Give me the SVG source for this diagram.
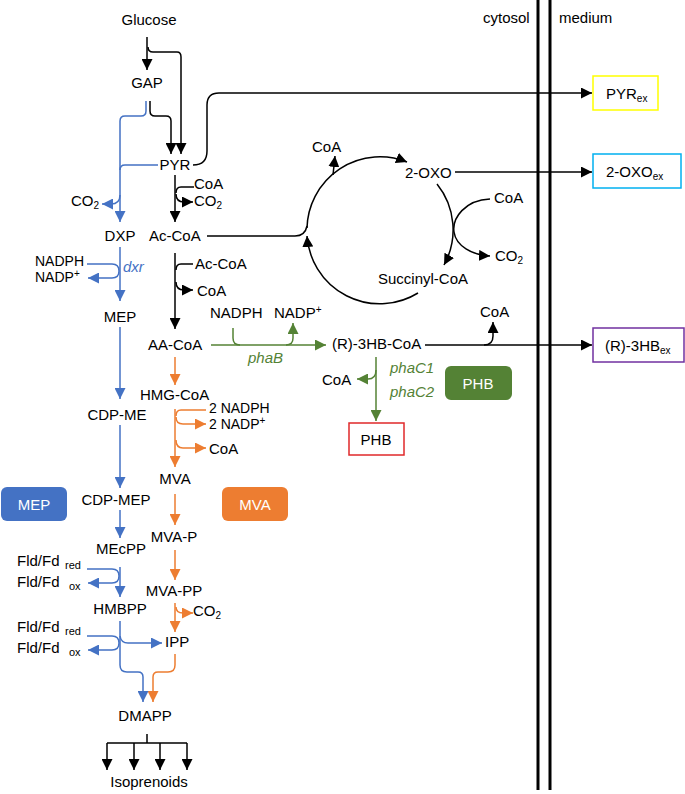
<svg xmlns="http://www.w3.org/2000/svg" width="685" height="794" viewBox="0 0 685 794">
<defs>
<marker id="ak" viewBox="0 0 10 10" refX="10" refY="5" markerWidth="11" markerHeight="11" markerUnits="userSpaceOnUse" orient="auto"><path d="M0,0 L10,5 L0,10 z" fill="#000"/></marker>
<marker id="ab" viewBox="0 0 10 10" refX="10" refY="5" markerWidth="11" markerHeight="11" markerUnits="userSpaceOnUse" orient="auto"><path d="M0,0 L10,5 L0,10 z" fill="#4472C4"/></marker>
<marker id="ao" viewBox="0 0 10 10" refX="10" refY="5" markerWidth="11" markerHeight="11" markerUnits="userSpaceOnUse" orient="auto"><path d="M0,0 L10,5 L0,10 z" fill="#ED7D31"/></marker>
<marker id="ag" viewBox="0 0 10 10" refX="10" refY="5" markerWidth="11" markerHeight="11" markerUnits="userSpaceOnUse" orient="auto"><path d="M0,0 L10,5 L0,10 z" fill="#548235"/></marker>
</defs>
<style>
text{font-family:"Liberation Sans",Arial,sans-serif;font-size:15px;fill:#000}
.c{text-anchor:middle}
.s{font-size:10px}
.t{font-size:14px}
.w{fill:#fff}
.it{font-style:italic}
.k,.b,.o,.g{fill:none;stroke-width:1.5}
.k{stroke:#000}.b{stroke:#4472C4}.o{stroke:#ED7D31}.g{stroke:#548235}
.mem{stroke:#000;stroke-width:3}
</style>
<rect width="685" height="794" fill="#fff"/>
<g id="membrane"><line class="mem" x1="538" y1="0" x2="538" y2="790"/><line class="mem" x1="550" y1="0" x2="550" y2="790"/></g>
<g id="connectors">
<path class="k" d="M147,37 V70" marker-end="url(#ak)"/>
<path class="k" d="M148,47 Q148,52 153,52 H177 Q181,52 181,57 V154" marker-end="url(#ak)"/>
<path class="k" d="M150,101 V111 Q150,116 155,116 H166 Q171,116 171,121 V154" marker-end="url(#ak)"/>
<path class="b" d="M146,101 V111 Q146,116 141,116 H125 Q120,116 120,121 V222" marker-end="url(#ab)"/>
<path class="b" d="M158,165 H125 Q120,165 120,170"/>
<path class="b" d="M120,195 Q120,204 111,204 H102" marker-end="url(#ab)"/>
<path class="k" d="M175,175 V222" marker-end="url(#ak)"/>
<path class="k" d="M194,187 H181 Q176,187 176,193"/>
<path class="k" d="M176,194 Q176,202 184,202 H193" marker-end="url(#ak)"/>
<path class="k" d="M193,165 Q207,165 207,151 V105 Q207,93 219,93 H592" marker-end="url(#ak)"/>
<path class="k" d="M207,236 H295 Q305,236 307,226"/>
<path class="k" d="M307,228 A73,73 0 0,1 407,162" marker-end="url(#ak)"/>
<path class="k" d="M333,175 L335,156" marker-end="url(#ak)"/>
<path class="k" d="M437,184 A73,73 0 0,1 444,265" marker-end="url(#ak)"/>
<path class="k" d="M418,293 A73,73 0 0,1 307,236" marker-end="url(#ak)"/>
<path class="k" d="M490,199 C465,200 452,218 454,232 C456,246 472,255 490,256" marker-end="url(#ak)"/>
<path class="k" d="M455,172 H592" marker-end="url(#ak)"/>
<path class="k" d="M175,253 V329" marker-end="url(#ak)"/>
<path class="k" d="M193,264 H181 Q176,264 176,270"/>
<path class="k" d="M176,282 Q176,290 184,290 H193" marker-end="url(#ak)"/>
<path class="g" d="M211,345 H326" marker-end="url(#ag)"/>
<path class="g" d="M233,328 V338 Q233,345 240,345"/>
<path class="g" d="M286,345 Q293,345 293,338 V323" marker-end="url(#ag)"/>
<path class="k" d="M425,345 H592" marker-end="url(#ak)"/>
<path class="k" d="M484,345 Q493,345 493,336 V322" marker-end="url(#ak)"/>
<path class="g" d="M376,357 V421" marker-end="url(#ag)"/>
<path class="g" d="M376,370 Q376,379 368,379 H357" marker-end="url(#ag)"/>
<path class="o" d="M175,357 V385" marker-end="url(#ao)"/>
<path class="o" d="M175,409 V467" marker-end="url(#ao)"/>
<path class="o" d="M206,410 H181 Q176,410 176,416"/>
<path class="o" d="M176,417 Q176,424 183,424 H206" marker-end="url(#ao)"/>
<path class="o" d="M176,440 Q176,448 183,448 H206" marker-end="url(#ao)"/>
<path class="o" d="M175,494 V525" marker-end="url(#ao)"/>
<path class="o" d="M175,550 V580" marker-end="url(#ao)"/>
<path class="o" d="M175,603 V632" marker-end="url(#ao)"/>
<path class="o" d="M176,607 Q176,613 183,613 H193" marker-end="url(#ao)"/>
<path class="o" d="M175,654 V665 Q175,672 168,672 H158 Q153,672 153,677 V702" marker-end="url(#ao)"/>
<path class="b" d="M120,247 V301" marker-end="url(#ab)"/>
<path class="b" d="M87,264 H112 Q119,264 119,271 Q119,278 112,278 H88" marker-end="url(#ab)"/>
<path class="b" d="M120,327 V399" marker-end="url(#ab)"/>
<path class="b" d="M120,425 V488" marker-end="url(#ab)"/>
<path class="b" d="M120,510 V538" marker-end="url(#ab)"/>
<path class="b" d="M120,567 V597" marker-end="url(#ab)"/>
<path class="b" d="M87,569 H112 Q119,569 119,576 Q119,583 112,583 H88" marker-end="url(#ab)"/>
<path class="b" d="M120,621 V665 Q120,672 127,672 H138 Q143,672 143,677 V702" marker-end="url(#ab)"/>
<path class="b" d="M87,636 H112 Q119,636 119,643 Q119,650 112,650 H88" marker-end="url(#ab)"/>
<path class="b" d="M120,636 Q121,643 128,643 H162" marker-end="url(#ab)"/>
<path class="k" d="M147,734 V743 M107,743 H187"/>
<path class="k" d="M107,743 V770" marker-end="url(#ak)"/>
<path class="k" d="M134,743 V770" marker-end="url(#ak)"/>
<path class="k" d="M160,743 V770" marker-end="url(#ak)"/>
<path class="k" d="M187,743 V770" marker-end="url(#ak)"/>
</g>
<g id="labels-compartments"><text x="483" y="23">cytosol</text><text x="559" y="23">medium</text></g>
<g id="glucose"><text class="c" x="149" y="25">Glucose</text></g>
<g id="gap"><text class="c" x="147" y="88">GAP</text></g>
<g id="pyr"><text class="c" x="175" y="170">PYR</text></g>
<g id="pyr-coa"><text x="194" y="189">CoA</text><text x="194" y="206">CO<tspan class="s" dy="3">2</tspan></text></g>
<g id="co2-dxp"><text x="71" y="206">CO<tspan class="s" dy="3">2</tspan></text></g>
<g id="dxp"><text class="c" x="120" y="241">DXP</text></g>
<g id="accoa"><text x="149" y="241">Ac-CoA</text></g>
<g id="dxr-cof"><text class="t" x="35" y="266">NADPH</text><text class="t" x="35" y="282">NADP<tspan class="s" dy="-5">+</tspan></text><text class="it" x="123" y="272" style="fill:#4472C4">dxr</text></g>
<g id="accoa2"><text x="195" y="269">Ac-CoA</text><text x="197" y="296">CoA</text></g>
<g id="mep"><text class="c" x="120" y="322">MEP</text></g>
<g id="phab-cof"><text x="210" y="318">NADPH</text><text x="274" y="318">NADP<tspan class="s" dy="-5">+</tspan></text><text class="it" x="248" y="363" style="fill:#548235">phaB</text></g>
<g id="aacoa"><text x="148" y="350">AA-CoA</text></g>
<g id="r3hbcoa"><text x="332" y="349">(R)-3HB-CoA</text><text x="480" y="317">CoA</text></g>
<g id="phac"><text x="322" y="385">CoA</text><text class="it" x="390" y="373" style="fill:#548235">phaC1</text><text class="it" x="390" y="397" style="fill:#548235">phaC2</text></g>
<g id="phb-legend"><rect x="445" y="366" width="67" height="34" rx="6" fill="#548235"/><text class="c w" x="478" y="389">PHB</text></g>
<g id="phb"><rect x="349" y="423" width="55" height="32" fill="#fff" stroke="#E0282A" stroke-width="1.5"/><text class="c" x="376" y="445">PHB</text></g>
<g id="hmgcoa"><text x="140" y="400">HMG-CoA</text><text class="t" x="209" y="413">2 NADPH</text><text class="t" x="209" y="429">2 NADP<tspan class="s" dy="-5">+</tspan></text><text x="209" y="454">CoA</text></g>
<g id="cdpme"><text class="c" x="117" y="420">CDP-ME</text></g>
<g id="mva"><text class="c" x="175" y="484">MVA</text></g>
<g id="cdpmep"><text class="c" x="116" y="505">CDP-MEP</text></g>
<g id="mep-legend"><rect x="1" y="487" width="66" height="34" rx="6" fill="#4472C4"/><text class="c w" x="34" y="510">MEP</text></g>
<g id="mva-legend"><rect x="222" y="487" width="66" height="34" rx="6" fill="#ED7D31"/><text class="c w" x="255" y="510">MVA</text></g>
<g id="mvap"><text class="c" x="174" y="542">MVA-P</text></g>
<g id="mecpp"><text class="c" x="121" y="554">MEcPP</text></g>
<g id="fld1"><text x="17" y="566">Fld/Fd</text><text x="65" y="569" style="font-size:11px">red</text><text x="17" y="587">Fld/Fd</text><text x="69" y="590" style="font-size:11px">ox</text></g>
<g id="mvapp"><text class="c" x="174" y="596">MVA-PP</text><text x="193" y="616">CO<tspan class="s" dy="3">2</tspan></text></g>
<g id="hmbpp"><text class="c" x="120" y="614">HMBPP</text></g>
<g id="fld2"><text x="17" y="632">Fld/Fd</text><text x="65" y="635" style="font-size:11px">red</text><text x="17" y="653">Fld/Fd</text><text x="69" y="656" style="font-size:11px">ox</text></g>
<g id="ipp"><text x="165" y="647">IPP</text></g>
<g id="dmapp"><text class="c" x="145" y="721">DMAPP</text></g>
<g id="isoprenoids"><text class="c" x="149" y="787">Isoprenoids</text></g>
<g id="oxo"><text x="405" y="178">2-OXO</text></g>
<g id="tca-coa"><text x="312" y="152">CoA</text><text x="494" y="203">CoA</text><text x="495" y="261">CO<tspan class="s" dy="3">2</tspan></text></g>
<g id="succoa"><text x="378" y="284">Succinyl-CoA</text></g>
<g id="pyrex"><rect x="593" y="76" width="65" height="34" fill="#fff" stroke="#FFFF00" stroke-width="1.5"/><text x="606" y="99">PYR<tspan class="s" dy="3">ex</tspan></text></g>
<g id="oxoex"><rect x="593" y="154" width="88" height="34" fill="#fff" stroke="#00B0F0" stroke-width="1.5"/><text x="606" y="177">2-OXO<tspan class="s" dy="3">ex</tspan></text></g>
<g id="r3hbex"><rect x="593" y="328" width="91" height="34" fill="#fff" stroke="#7030A0" stroke-width="1.5"/><text x="605" y="351">(R)-3HB<tspan class="s" dy="3">ex</tspan></text></g>
</svg>
